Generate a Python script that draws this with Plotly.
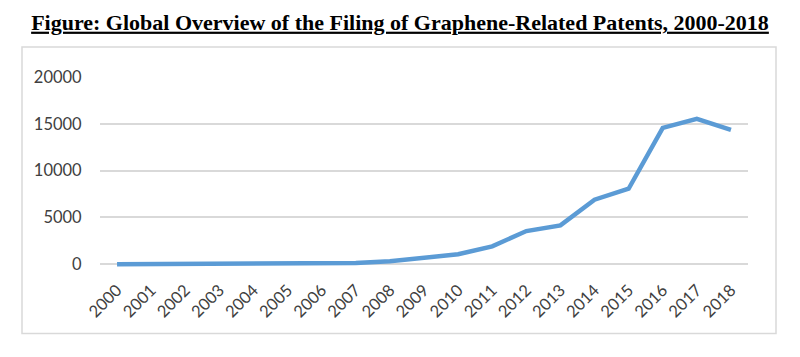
import plotly.graph_objects as go

years = [str(y) for y in range(2000, 2019)]
patents = [10, 20, 25, 30, 30, 35, 50, 150, 320, 640, 1070, 1920, 3550, 4160, 6900, 8070, 14570, 15530, 14360]
y_ticks = [0, 5000, 10000, 15000, 20000]
title_text = "Figure: Global Overview of the Filing of Graphene-Related Patents, 2000-2018"

fig = go.Figure()
fig.add_trace(go.Scatter(
    x=years, y=patents, mode="lines",
    line=dict(color="#5B9BD5", width=4.5, shape="linear"),
    hoverinfo="x+y", showlegend=False,
))

# plot area: x 100..748, y 77..268.7 (px)
fig.update_layout(
    width=800, height=357,
    margin=dict(l=100, r=52, t=77, b=88.3, pad=0),
    paper_bgcolor="white", plot_bgcolor="white",
    title=dict(
        text="<b><u>" + title_text + "</u></b>",
        x=0.5, xanchor="center", xref="container",
        y=1 - 22 / 357, yanchor="middle", yref="container",
        font=dict(family="Liberation Serif", size=22, color="#000000"),
    ),
    xaxis=dict(
        type="category", range=[-0.5, 18.5],
        showgrid=False, zeroline=False, showline=False,
        tickangle=-45, ticks="outside", ticklen=4, tickcolor="rgba(0,0,0,0)",
        tickfont=dict(family="Lato", size=16.5, color="#404040"),
    ),
    yaxis=dict(
        range=[-500, 20000], tickvals=y_ticks, ticktext=[str(v) for v in y_ticks],
        showgrid=True, gridcolor="#d9d9d9", gridwidth=1.5,
        zeroline=False, showline=False,
        ticks="outside", ticklen=14, tickcolor="rgba(0,0,0,0)",
        tickfont=dict(family="Lato", size=16.5, color="#404040"),
    ),
    shapes=[dict(
        type="rect", xref="paper", yref="paper",
        x0=(22 - 100) / 648, x1=(776 - 100) / 648,
        y0=(268.7 - 333) / 191.7, y1=(268.7 - 47) / 191.7,
        line=dict(color="#d9d9d9", width=1.5), fillcolor="rgba(0,0,0,0)", layer="below",
    )],
)

fig.write_html("out.html", config={"displayModeBar": False},
               post_script="document.body.style.margin='0px';")
